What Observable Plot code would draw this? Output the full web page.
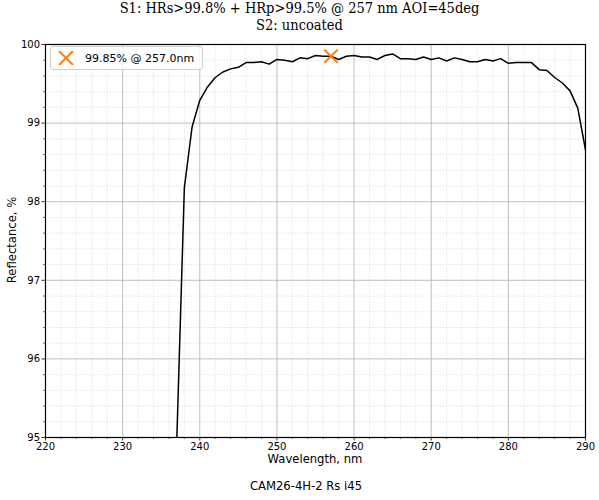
<!DOCTYPE html>
<html><head><meta charset="utf-8">
<script src="https://cdn.jsdelivr.net/npm/d3@7"></script>
<script src="https://cdn.jsdelivr.net/npm/@observablehq/plot@0.6"></script>
<style>
body{margin:0;background:#fff;}
#wrap{position:relative;width:599px;height:500px;font-family:"DejaVu Sans",sans-serif;}
.t{position:absolute;white-space:nowrap;color:#000;}
.title{font-family:"DejaVu Serif Condensed","DejaVu Serif",serif;font-stretch:condensed;font-size:14.5px;line-height:17px;}
.lab{font-size:11.6px;line-height:14px;}
</style></head>
<body><div id="wrap"></div>
<script>
const wavelengths = [237,238,239,240,241,242,243,244,245,246,247,248,249,250,251,252,253,254,255,256,257,258,259,260,261,262,263,264,265,266,267,268,269,270,271,272,273,274,275,276,277,278,279,280,281,282,283,284,285,286,287,288,289,290];
const reflectance = [94.9,98.18,98.95,99.29,99.46,99.58,99.65,99.69,99.71,99.77,99.77,99.78,99.75,99.81,99.80,99.78,99.83,99.82,99.86,99.85,99.85,99.81,99.85,99.86,99.84,99.84,99.81,99.86,99.88,99.82,99.82,99.81,99.84,99.81,99.83,99.79,99.83,99.81,99.78,99.78,99.81,99.79,99.82,99.76,99.77,99.77,99.77,99.68,99.67,99.58,99.51,99.41,99.19,98.66];
const peakWl = [257.0];
const peakR = [99.85];
const xMajor = [220,230,240,250,260,270,280,290];
const yMajor = [95,96,97,98,99,100];
const xMinor = d3.range(222, 290, 2).filter(v => v % 10 !== 0);
const yMinor = d3.range(95.2, 100, 0.2).map(v => +v.toFixed(1)).filter(v => Math.abs(v - Math.round(v)) > 0.01);
const titleLines = ["S1: HRs>99.8% + HRp>99.5% @ 257 nm AOI=45deg", "S2: uncoated"];
const xLabel = "Wavelength, nm";
const yLabel = "Reflectance, %";
const caption = "CAM26-4H-2 Rs i45";
const legendText = `${peakR[0].toFixed(2)}% @ ${peakWl[0].toFixed(1)}nm`;

const data = wavelengths.map((w, i) => ({w, r: reflectance[i]}));
const peaks = peakWl.map((w, i) => ({w, r: peakR[i]}));

const chart = Plot.plot({
  width: 599, height: 500,
  marginTop: 44, marginBottom: 63, marginLeft: 45, marginRight: 14,
  style: {fontFamily: "DejaVu Sans", fontSize: "10px", color: "#000", background: "#fff"},
  x: {domain: [220, 290]},
  y: {domain: [95, 100]},
  marks: [
    Plot.ruleX(xMinor, {stroke: "#d9d9d9", strokeWidth: 0.8, strokeDasharray: "1.2,1.6"}),
    Plot.ruleY(yMinor, {stroke: "#d9d9d9", strokeWidth: 0.8, strokeDasharray: "1.2,1.6"}),
    Plot.gridX(xMajor, {stroke: "#b0b0b0", strokeOpacity: 1, strokeWidth: 0.8}),
    Plot.gridY(yMajor, {stroke: "#b0b0b0", strokeOpacity: 1, strokeWidth: 0.8}),
    Plot.axisX(xMajor, {tickSize: 3.5, tickPadding: 2, label: null, tickFormat: d => String(d), fontSize: 10, strokeWidth: 0.8}),
    Plot.axisY(yMajor, {tickSize: 3.5, tickPadding: 2, label: null, tickFormat: d => String(d), fontSize: 10, strokeWidth: 0.8}),
    Plot.axisX(xMinor, {tickSize: 2, label: null, tickFormat: () => "", strokeWidth: 0.6}),
    Plot.axisY(yMinor, {tickSize: 2, label: null, tickFormat: () => "", strokeWidth: 0.6}),
    Plot.line(data, {x: "w", y: "r", stroke: "#000", strokeWidth: 1.5, clip: true}),
    Plot.dot(peaks, {x: "w", y: "r", symbol: "times", r: 6, stroke: "#ff7f0e", strokeWidth: 2}),
    Plot.frame({stroke: "#000", strokeWidth: 1.2})
  ]
});

const wrap = document.getElementById("wrap");
wrap.appendChild(chart);
chart.style.position = "absolute"; chart.style.left = "0px"; chart.style.top = "0px";

function addText(txt, css, cls) {
  const d = document.createElement("div");
  d.className = "t" + (cls ? " " + cls : ""); d.textContent = txt;
  Object.assign(d.style, css);
  wrap.appendChild(d);
  return d;
}
addText(titleLines[0], {left: "0px", width: "599px", textAlign: "center", top: "0px"}, "title");
addText(titleLines[1], {left: "0px", width: "599px", textAlign: "center", top: "17px"}, "title");
addText(xLabel, {left: "45px", width: "540px", textAlign: "center", top: "452px"}, "lab");
addText(caption, {left: "0px", width: "612px", textAlign: "center", top: "479px"}, "lab");
addText(yLabel, {left: "-38px", top: "233px", width: "100px", textAlign: "center", transform: "rotate(-90deg)", transformOrigin: "50% 50%"}, "lab");

// legend
const leg = document.createElement("div");
Object.assign(leg.style, {position: "absolute", left: "50px", top: "46px", height: "22px", padding: "0 8px 0 6px", border: "1px solid #d0d0d0", borderRadius: "3px", background: "rgba(255,255,255,0.8)", display: "flex", alignItems: "center", fontSize: "11px", whiteSpace: "nowrap"});
leg.innerHTML = `<svg width="18" height="14" style="margin-right:10px"><path d="M2,0L16,14M16,0L2,14" stroke="#ff7f0e" stroke-width="2" fill="none"/></svg><span>${legendText}</span>`;
wrap.appendChild(leg);
</script></body></html>
